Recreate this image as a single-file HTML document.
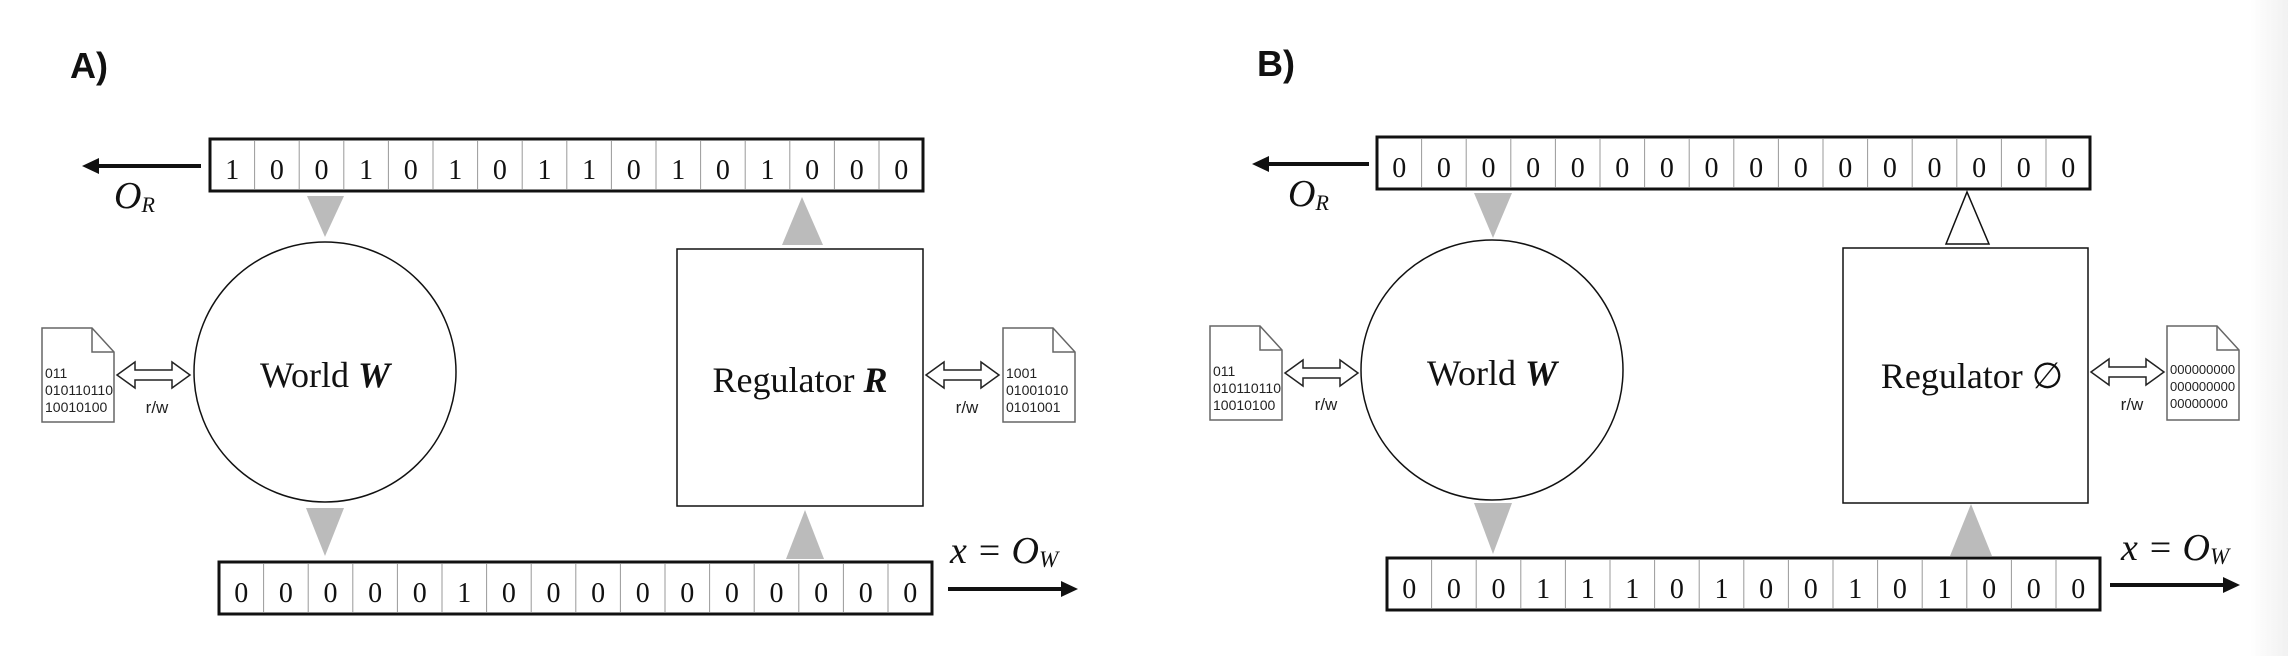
<!DOCTYPE html>
<html><head><meta charset="utf-8"><style>
html,body{margin:0;padding:0;background:#fff}
svg{display:block}
.d{font-family:"Liberation Serif",serif;font-size:28px;text-anchor:middle;fill:#111}
.m{font-family:"Liberation Serif",serif;font-style:italic;fill:#111}
.s{font-family:"Liberation Sans",sans-serif;fill:#222}
.lab{font-family:"Liberation Serif",serif;font-size:36px;text-anchor:middle;fill:#111}
</style></head><body>
<svg width="2288" height="656" viewBox="0 0 2288 656" xmlns="http://www.w3.org/2000/svg">
<defs>
<linearGradient id="g" x1="0" x2="1"><stop offset="0" stop-color="#fff"/><stop offset="1" stop-color="#f1f1f1"/></linearGradient>
<g id="bar">
<rect x="0" y="0" width="713" height="52" fill="#fff" stroke="#111" stroke-width="3"/>
<path d="M44.6 2V50M89.2 2V50M133.8 2V50M178.4 2V50M223 2V50M267.6 2V50M312.2 2V50M356.8 2V50M401.4 2V50M446 2V50M490.6 2V50M535.2 2V50M579.8 2V50M624.4 2V50M669 2V50" stroke="#999" stroke-width="1"/>
</g>
<g id="dbl"><path d="M0 13L18 0V8H55V0L73 13L55 26V18H18V26Z" fill="#fff" stroke="#222" stroke-width="1.5" stroke-linejoin="miter"/></g>
<g id="doc"><path d="M0 0H50L72 24V94H0Z" fill="#fff" stroke="#666" stroke-width="1.5"/><path d="M50 0V24H72" fill="none" stroke="#666" stroke-width="1.5"/></g>
</defs>
<rect x="2250" y="0" width="38" height="656" fill="url(#g)"/>

<!-- Panel A -->
<text x="70" y="78" font-family="Liberation Sans,sans-serif" font-weight="bold" font-size="36" fill="#111">A)</text>
<use href="#bar" x="210" y="139"/>
<g class="d" transform="translate(210,139)">
<text x="22.3" y="40">1</text><text x="66.9" y="40">0</text><text x="111.5" y="40">0</text><text x="156.1" y="40">1</text><text x="200.7" y="40">0</text><text x="245.3" y="40">1</text><text x="289.9" y="40">0</text><text x="334.5" y="40">1</text><text x="379.1" y="40">1</text><text x="423.7" y="40">0</text><text x="468.3" y="40">1</text><text x="512.9" y="40">0</text><text x="557.5" y="40">1</text><text x="602.1" y="40">0</text><text x="646.7" y="40">0</text><text x="691.3" y="40">0</text>
</g>
<line x1="201" y1="166" x2="96" y2="166" stroke="#111" stroke-width="4"/>
<path d="M82 166L99 158V174Z" fill="#111"/>
<text class="m" x="114" y="208" font-size="38">O<tspan font-size="22" dy="4">R</tspan></text>
<path d="M307 196H344L325 237Z" fill="#bbb"/>
<ellipse cx="325" cy="372" rx="131" ry="130" fill="#fff" stroke="#111" stroke-width="1.5"/>
<text class="lab" x="325" y="387">World <tspan font-weight="bold" font-style="italic">W</tspan></text>
<path d="M306 508H344L325 556Z" fill="#bbb"/>
<use href="#bar" x="219" y="562"/>
<g class="d" transform="translate(219,562)">
<text x="22.3" y="40">0</text><text x="66.9" y="40">0</text><text x="111.5" y="40">0</text><text x="156.1" y="40">0</text><text x="200.7" y="40">0</text><text x="245.3" y="40">1</text><text x="289.9" y="40">0</text><text x="334.5" y="40">0</text><text x="379.1" y="40">0</text><text x="423.7" y="40">0</text><text x="468.3" y="40">0</text><text x="512.9" y="40">0</text><text x="557.5" y="40">0</text><text x="602.1" y="40">0</text><text x="646.7" y="40">0</text><text x="691.3" y="40">0</text>
</g>
<line x1="948" y1="589" x2="1063" y2="589" stroke="#111" stroke-width="4"/>
<path d="M1078 589L1061 581V597Z" fill="#111"/>
<text class="m" x="950" y="563" font-size="38">x = O<tspan font-size="23" dy="4">W</tspan></text>
<rect x="677" y="249" width="246" height="257" fill="#fff" stroke="#111" stroke-width="1.5"/>
<text class="lab" x="800" y="392">Regulator <tspan font-weight="bold" font-style="italic">R</tspan></text>
<path d="M782 245H823L802 197Z" fill="#bbb"/>
<path d="M786 559H824L805 510Z" fill="#bbb"/>
<use href="#doc" x="42" y="328"/>
<g class="s" font-size="14"><text x="45" y="378">011</text><text x="45" y="395">010110110</text><text x="45" y="412">10010100</text></g>
<use href="#dbl" x="117" y="362"/>
<text class="s" x="157" y="413" font-size="17" text-anchor="middle">r/w</text>
<use href="#doc" x="1003" y="328"/>
<g class="s" font-size="14"><text x="1006" y="378">1001</text><text x="1006" y="395">01001010</text><text x="1006" y="412">0101001</text></g>
<use href="#dbl" x="926" y="362"/>
<text class="s" x="967" y="413" font-size="17" text-anchor="middle">r/w</text>

<!-- Panel B -->
<text x="1257" y="76" font-family="Liberation Sans,sans-serif" font-weight="bold" font-size="36" fill="#111">B)</text>
<use href="#bar" x="1377" y="137"/>
<g class="d" transform="translate(1377,137)">
<text x="22.3" y="40">0</text><text x="66.9" y="40">0</text><text x="111.5" y="40">0</text><text x="156.1" y="40">0</text><text x="200.7" y="40">0</text><text x="245.3" y="40">0</text><text x="289.9" y="40">0</text><text x="334.5" y="40">0</text><text x="379.1" y="40">0</text><text x="423.7" y="40">0</text><text x="468.3" y="40">0</text><text x="512.9" y="40">0</text><text x="557.5" y="40">0</text><text x="602.1" y="40">0</text><text x="646.7" y="40">0</text><text x="691.3" y="40">0</text>
</g>
<line x1="1369" y1="164" x2="1266" y2="164" stroke="#111" stroke-width="4"/>
<path d="M1252 164L1269 156V172Z" fill="#111"/>
<text class="m" x="1288" y="206" font-size="38">O<tspan font-size="22" dy="4">R</tspan></text>
<path d="M1474 193H1512L1493 238Z" fill="#bbb"/>
<ellipse cx="1492" cy="370" rx="131" ry="130" fill="#fff" stroke="#111" stroke-width="1.5"/>
<text class="lab" x="1492" y="385">World <tspan font-weight="bold" font-style="italic">W</tspan></text>
<path d="M1474 503H1512L1493 554Z" fill="#bbb"/>
<use href="#bar" x="1387" y="558"/>
<g class="d" transform="translate(1387,558)">
<text x="22.3" y="40">0</text><text x="66.9" y="40">0</text><text x="111.5" y="40">0</text><text x="156.1" y="40">1</text><text x="200.7" y="40">1</text><text x="245.3" y="40">1</text><text x="289.9" y="40">0</text><text x="334.5" y="40">1</text><text x="379.1" y="40">0</text><text x="423.7" y="40">0</text><text x="468.3" y="40">1</text><text x="512.9" y="40">0</text><text x="557.5" y="40">1</text><text x="602.1" y="40">0</text><text x="646.7" y="40">0</text><text x="691.3" y="40">0</text>
</g>
<line x1="2110" y1="585" x2="2225" y2="585" stroke="#111" stroke-width="4"/>
<path d="M2240 585L2223 577V593Z" fill="#111"/>
<text class="m" x="2121" y="560" font-size="38">x = O<tspan font-size="23" dy="4">W</tspan></text>
<rect x="1843" y="248" width="245" height="255" fill="#fff" stroke="#111" stroke-width="1.5"/>
<text class="lab" x="1972" y="388">Regulator ∅</text>
<path d="M1946 244H1989L1967 192Z" fill="#fff" stroke="#111" stroke-width="1.5"/>
<path d="M1950 556H1992L1971 504Z" fill="#bbb"/>
<use href="#doc" x="1210" y="326"/>
<g class="s" font-size="14"><text x="1213" y="376">011</text><text x="1213" y="393">010110110</text><text x="1213" y="410">10010100</text></g>
<use href="#dbl" x="1285" y="360"/>
<text class="s" x="1326" y="410" font-size="17" text-anchor="middle">r/w</text>
<use href="#doc" x="2167" y="326"/>
<g class="s" font-size="13"><text x="2170" y="374">000000000</text><text x="2170" y="391">000000000</text><text x="2170" y="408">00000000</text></g>
<use href="#dbl" x="2091" y="359"/>
<text class="s" x="2132" y="410" font-size="17" text-anchor="middle">r/w</text>
</svg>
</body></html>
